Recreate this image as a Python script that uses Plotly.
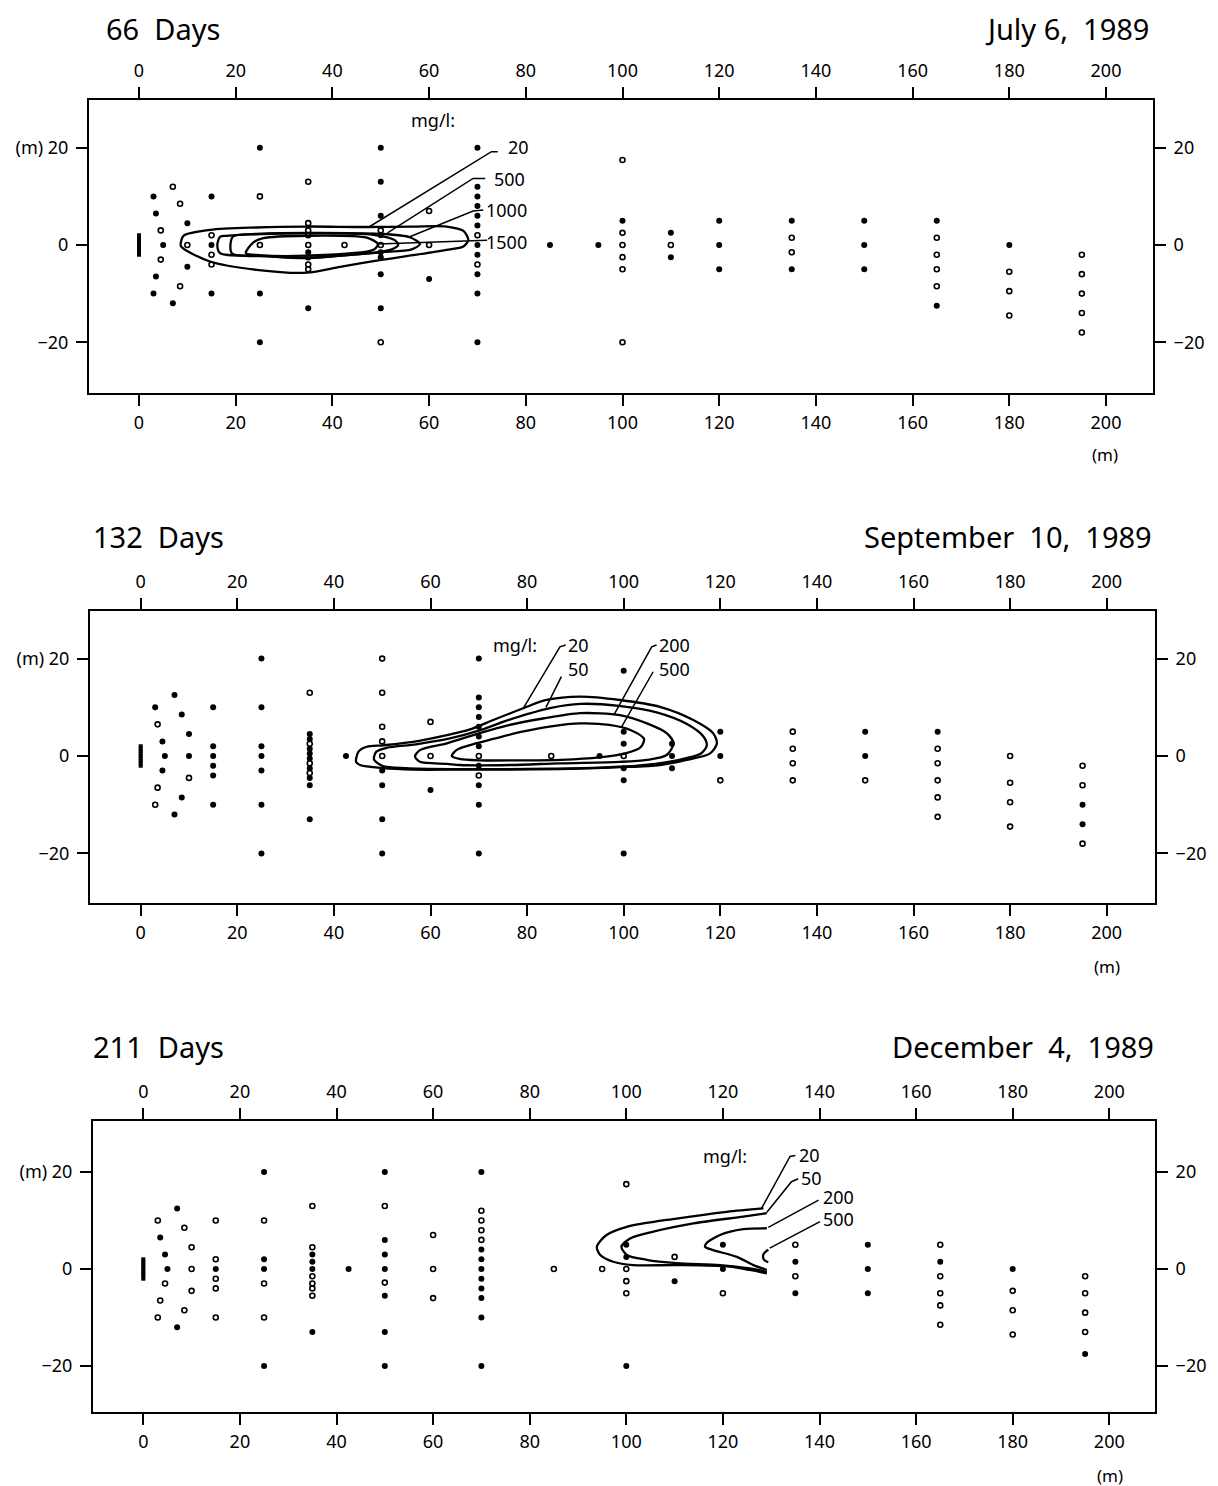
import plotly.graph_objects as go

# page body has an 8px margin: draw into the area that starts there
OFFSET = 8
W, H = 1218 - OFFSET, 1486 - OFFSET

# ---------------- data ----------------
TICKS_X = [0, 20, 40, 60, 80, 100, 120, 140, 160, 180, 200]
TICKS_Y = [-20, 0, 20]
TICKTEXT_Y_LEFT = ["\u221220", "0", "(m) 20"]
TICKTEXT_Y_RIGHT = ["\u221220", "0", "20"]

WELL_Y = [-2, -1.5, -1, -0.5, 0, 0.5, 1, 1.5, 2]

TITLES = ["66  Days", "132  Days", "211  Days"]
DATES = ["July 6,  1989", "September  10,  1989", "December  4,  1989"]

# Panel 1 : 66 days
P1_FILLED_X = [3, 3.5, 10, 5, 10, 3.5, 3, 7, 15, 15, 15, 25, 25, 25, 35, 35,
               50, 50, 50, 50, 50, 50, 50, 50, 60,
               70, 70, 70, 70, 70, 70, 70, 70, 70, 70, 70,
               85, 95, 100, 110, 110, 120, 120, 120, 135, 135, 150, 150, 150, 165, 165, 180]
P1_FILLED_Y = [10, 6.5, 4.5, 0, -4.5, -6.5, -10, -12, 10, 0, -10, 20, -10, -20, -1.5, -13,
               20, 13, 6, 2, -1.5, -2.5, -6, -13, -7,
               20, 12, 10, 8, 6, 4, 0, -2, -6, -10, -20,
               0, 0, 5, 2.5, -2.5, 5, 0, -5, 5, -5, 5, 0, -5, 5, -12.5, 0]
P1_OPEN_X = [7, 8.5, 4.5, 10, 4.5, 8.5, 15, 15, 15, 25, 25,
             35, 35, 35, 35, 35, 35, 35, 35, 42.5, 50, 50, 50, 60, 60, 70, 70,
             100, 100, 100, 100, 100, 100, 110, 135, 135,
             165, 165, 165, 165, 180, 180, 180, 195, 195, 195, 195, 195]
P1_OPEN_Y = [12, 8.5, 3, 0, -3, -8.5, 2, -2, -4, 10, 0,
             13, 4.5, 3, 2, 0, -2.5, -4, -5, 0, 3, 0, -20, 7, 0, 2, -4,
             17.5, 2.5, 0, -2.5, -5, -20, 0, 1.5, -1.5,
             1.5, -2, -5, -8.5, -5.5, -9.5, -14.5, -2, -6, -10, -14, -18]

P1_C20_X = [8.7, 9.2, 14.7, 24.3, 34.7, 47.1, 56.7, 63.6, 67.1, 68.1, 67.1, 63.6, 56.7, 49.8, 41.6, 34.7, 24.3, 14.7, 8.7, 8.7]
P1_C20_Y = [0.7, 1.9, 3.1, 3.6, 3.8, 3.7, 3.8, 3.8, 2.9, 1.0, -0.3, -1.0, -2.1, -3.1, -4.5, -5.7, -5.1, -3.4, -0.3, 0.7]
P1_C500_X = [16.2, 16.8, 18.1, 24.3, 34.7, 49.8, 56.0, 58.1, 56.4, 49.8, 34.7, 24.3, 16.8, 16.2]
P1_C500_Y = [0, 1.7, 1.9, 2.3, 2.5, 2.3, 1.6, 0.2, -0.9, -1.5, -2.6, -2.2, -1.7, 0]
P1_C1000_X = [19.4, 24.3, 34.7, 48.5, 52.9, 53.6, 52.3, 49.8, 34.7, 26.4, 19.2, 19.4]
P1_C1000_Y = [1.7, 2.2, 2.4, 2.1, 1.0, 0, -0.9, -1.4, -2.7, -2.3, -1.7, 1.7]
P1_C1500_X = [22.1, 23.6, 25.7, 34.7, 47.1, 49.4, 48.5, 34.7, 24.9, 22.1]
P1_C1500_Y = [-1.7, 0.5, 1.4, 1.9, 1.5, 0.2, -1.0, -2.2, -2.1, -1.7]

P1_LABELS = ["mg/l:", "20", "500", "1000", "1500"]
P1_LEADERS_X = [[47.4, 72.9, 74.2], [51.4, 69.1, 71.6], [56.0, 69.1, 71.2], [49.5, 72.0]]
P1_LEADERS_Y = [[3.6, 19.2, 19.2], [2.5, 13.7, 13.7], [1.7, 7.0, 7.2], [0.2, 1.0]]

# Panel 2 : 132 days
P2_FILLED_X = [3, 7, 8.5, 10, 4.5, 5, 10, 4.5, 8.5, 7,
               15, 15, 15, 15, 15, 15, 25, 25, 25, 25, 25, 25, 25,
               35, 35, 35, 35, 35, 35, 35, 35, 35, 42.5, 50, 50, 50, 50, 60,
               70, 70, 70, 70, 70, 70, 70, 70, 70, 70, 70, 95,
               100, 100, 100, 100, 100, 100, 110, 110, 110, 120, 120, 150, 150, 165, 195, 195]
P2_FILLED_Y = [10, 12.5, 8.5, 4.5, 3, 0, 0, -3, -8.5, -12,
               10, 2, 0, -2, -4, -10, 20, 10, 2, 0, -3, -10, -20,
               4.5, 3.5, 1.5, 0.5, -0.5, -2.5, -4.5, -6, -13, 0, -3, -6, -13, -20, -7,
               20, 12, 10, 8, 6, 4, 2, -2, -6, -10, -20, 0,
               17.5, 5, 2.5, -2.5, -5, -20, 2.5, 0, -2.5, 5, 0, 5, 0, 5, -10, -14]
P2_OPEN_X = [3.5, 10, 3.5, 3, 35, 35, 35, 35, 50, 50, 50, 50, 50, 60, 60, 70, 70, 85, 100, 120,
             135, 135, 135, 135, 150, 165, 165, 165, 165, 165, 180, 180, 180, 180, 195, 195, 195]
P2_OPEN_Y = [6.5, -4.5, -6.5, -10, 13, 2.5, -1.5, -3.5, 20, 13, 6, 3, 0, 7, 0, 0, -4, 0, 0, -5,
             5, 1.5, -1.5, -5, -5, 1.5, -1.5, -5, -8.5, -12.5, 0, -5.5, -9.5, -14.5, -2, -6, -18]

P2_C20_X = [44.6, 45.1, 46.8, 50.2, 56.4, 63.4, 68.0, 73.0, 79.2, 84.0, 91.0, 99.2, 107.5, 114.4, 118.5, 119.3, 117.9,
            113.0, 107.5, 99.2, 86.8, 76.5, 66.0, 56.4, 50.2, 45.4, 44.6]
P2_C20_Y = [-1.2, 0.9, 1.9, 2.2, 2.9, 4.3, 5.4, 7.4, 9.8, 11.5, 12.2, 11.5, 10.1, 7.4, 4.7, 2.6, 0.55,
            -0.8, -1.85, -2.3, -2.7, -2.8, -2.8, -2.8, -2.5, -1.85, -1.2]
P2_C50_X = [48.3, 48.8, 51.0, 57.0, 64.0, 70.0, 75.0, 80.0, 85.0, 91.0, 99.0, 107.0, 113.0, 116.5, 117.2, 116.0,
            111.0, 104.0, 95.0, 85.0, 75.0, 65.0, 55.0, 50.0, 48.3]
P2_C50_Y = [-0.7, 0.9, 1.7, 2.4, 3.6, 5.2, 7.0, 8.6, 9.9, 10.7, 10.3, 8.9, 6.6, 4.0, 2.2, 0.5,
            -0.9, -1.9, -2.4, -2.6, -2.7, -2.7, -2.5, -2.0, -0.7]
P2_C200_X = [56.8, 57.8, 63.4, 70.2, 76.0, 83.3, 91.0, 99.2, 104.8, 108.9, 110.3, 108.9, 104.8, 99.2, 86.8, 76.5,
             66.1, 63.4, 57.8, 56.8]
P2_C200_Y = [-0.1, 1.2, 2.6, 4.7, 6.3, 7.7, 8.8, 8.4, 6.7, 4.7, 2.6, 0.2, -0.8, -1.2, -1.5, -1.85,
             -1.85, -1.6, -1.2, -0.1]
P2_C500_X = [64.4, 65.5, 68.0, 73.0, 79.0, 85.0, 91.0, 97.0, 101.5, 104.2, 103.5, 100.5, 95.0, 87.0, 78.0, 70.0, 66.0, 64.4]
P2_C500_Y = [0, 1.3, 2.2, 3.5, 5.0, 6.1, 6.7, 6.4, 5.3, 3.5, 1.8, 0.6, -0.3, -0.8, -0.9, -0.9, -0.6, 0]

P2_LABELS = ["mg/l:", "20", "50", "200", "500"]
P2_LEADERS_X = [[79.2, 86.8, 88.0], [83.9, 87.1], [98.0, 105.8, 106.8], [99.5, 106.1]]
P2_LEADERS_Y = [[9.8, 22.4, 22.8], [10.0, 16.3], [8.5, 22.4, 22.8], [5.9, 17.3]]

# Panel 3 : 211 days
P3_FILLED_X = [7, 3.5, 4.5, 5, 7, 15, 25, 25, 25, 25, 35, 35, 35, 35, 42.5,
               50, 50, 50, 50, 50, 50, 50,
               70, 70, 70, 70, 70, 70, 70, 70, 70,
               100, 100, 100, 110, 120, 120, 135, 135, 150, 150, 150, 165, 180, 195]
P3_FILLED_Y = [12.5, 6.5, 3, 0, -12, 0, 20, 2, 0, -20, 3, 1.5, 0, -13, 0,
               20, 6, 3, 0, -5.5, -13, -20,
               20, 4, 2, 0, -2, -4, -6, -10, -20,
               5, 2.5, -20, -2.5, 5, 0, 1.5, -5, 5, 0, -5, 1.5, 0, -17.5]
P3_OPEN_X = [3, 8.5, 15, 10, 10, 4.5, 10, 3.5, 8.5, 3, 15, 15, 15, 15, 25, 25, 25,
             35, 35, 35, 35, 35, 35, 50, 50, 60, 60, 60, 70, 70, 70, 70,
             85, 95, 100, 100, 100, 100, 110, 120, 135, 135,
             165, 165, 165, 165, 165, 180, 180, 180, 195, 195, 195, 195]
P3_OPEN_Y = [10, 8.5, 10, 4.5, 0, -3, -4.5, -6.5, -8.5, -10, 2, -2, -4, -10, 10, -3, -10,
             13, 4.5, -1.5, -3, -4, -5.5, 13, -2.8, 7, 0, -6, 12, 10, 8, 6,
             0, 0, 17.5, 0, -2.5, -5, 2.5, -5, 5, -1.5,
             5, -1.5, -5, -7.5, -11.5, -4.5, -8.5, -13.5, -1.5, -5, -9, -13]

P3_C20_X = [128.4, 120.8, 110.4, 100.1, 95.9, 93.9, 94.6, 97.3, 101.4, 110.4, 121.4, 125.6, 129.1]
P3_C20_Y = [12.5, 11.8, 10.4, 8.7, 7.0, 4.6, 2.9, 1.5, 0.8, 0.8, 0.5, -0.2, -0.9]
P3_C50_X = [129.1, 124.2, 113.9, 105.6, 100.8, 99.0, 100.1, 104.2, 110.4, 119.4, 125.6, 129.1]
P3_C50_Y = [11.5, 10.8, 9.4, 7.7, 6.3, 4.6, 2.9, 1.9, 1.2, 0.8, 0.1, -0.6]
P3_C200_X = [129.1, 124.2, 119.4, 116.6, 116.3, 118.0, 122.9, 126.3, 129.1]
P3_C200_Y = [8.4, 8.2, 7.0, 5.3, 4.6, 3.9, 2.5, 0.8, -0.2]
P3_C500_X = [129.4, 128.5, 128.3, 128.6, 129.4]
P3_C500_Y = [4.0, 3.2, 2.5, 1.8, 1.4]

P3_LABELS = ["mg/l:", "20", "50", "200", "500"]
P3_LEADERS_X = [[128.0, 133.9, 135.0], [129.1, 134.2, 135.6], [129.4, 139.8], [129.7, 140.1]]
P3_LEADERS_Y = [[12.5, 23.2, 23.4], [11.7, 18.0, 18.6], [8.6, 14.2], [4.3, 9.75]]

# ---------------- layout constants (pixels / positions) ----------------
FONT = "Noto Sans"
# plot box in page pixels: left, right, top, bottom
BOXES = [(89, 1153, 100, 393), (90, 1155, 611, 903), (93, 1155, 1121, 1412)]
# data origin pixel and px per unit
ORIGINS = [(139, 245, 4.835, 4.86), (140.7, 756, 4.83, 4.87), (143.3, 1269, 4.83, 4.85)]
# title boxes: left-text x, right-text x, top of text box (page pixels)
TITLE_POS = [(105, 1150, 8), (92, 1153, 516), (92, 1155, 1026)]
M_POS = [(1105, 454), (1107, 966), (1110, 1475)]
# label anchor positions (data coords, left edge)
LABEL_POS = [
    [(56.0, 25.7), (76.1, 20.2), (73.2, 13.6), (71.6, 7.2), (71.6, 0.7)],
    [(72.7, 22.8), (88.3, 22.8), (88.3, 17.9), (107.1, 22.8), (107.1, 17.9)],
    [(115.6, 23.2), (135.5, 23.6), (136.0, 18.8), (140.5, 14.9), (140.5, 10.3)],
]

panels = [
    dict(fx=P1_FILLED_X, fy=P1_FILLED_Y, ox=P1_OPEN_X, oy=P1_OPEN_Y,
         contours=[(P1_C20_X, P1_C20_Y), (P1_C500_X, P1_C500_Y),
                   (P1_C1000_X, P1_C1000_Y), (P1_C1500_X, P1_C1500_Y)],
         labels=P1_LABELS, lx=P1_LEADERS_X, ly=P1_LEADERS_Y),
    dict(fx=P2_FILLED_X, fy=P2_FILLED_Y, ox=P2_OPEN_X, oy=P2_OPEN_Y,
         contours=[(P2_C20_X, P2_C20_Y), (P2_C50_X, P2_C50_Y),
                   (P2_C200_X, P2_C200_Y), (P2_C500_X, P2_C500_Y)],
         labels=P2_LABELS, lx=P2_LEADERS_X, ly=P2_LEADERS_Y),
    dict(fx=P3_FILLED_X, fy=P3_FILLED_Y, ox=P3_OPEN_X, oy=P3_OPEN_Y,
         contours=[(P3_C20_X, P3_C20_Y), (P3_C50_X, P3_C50_Y),
                   (P3_C200_X, P3_C200_Y), (P3_C500_X, P3_C500_Y)],
         labels=P3_LABELS, lx=P3_LEADERS_X, ly=P3_LEADERS_Y),
]


def nm(prefix, n):
    return prefix if n == 1 else f"{prefix}{n}"


def px(xp):
    return (xp - OFFSET) / W


def py(yp):
    return 1 - (yp - OFFSET) / H


fig = go.Figure()
layout = dict(width=W, height=H, autosize=False, margin=dict(l=0, r=0, t=0, b=0),
              paper_bgcolor="white", plot_bgcolor="white", showlegend=False,
              font=dict(family=FONT, color="black"))
annotations = []

for k, p in enumerate(panels):
    bx, tx = 2 * k + 1, 2 * k + 2
    left, right, top, bottom = BOXES[k]
    x0p, y0p, sx, sy = ORIGINS[k]
    xr = [(left - x0p) / sx, (right - x0p) / sx]
    yr = [(y0p - bottom) / sy, (y0p - top) / sy]
    xa, ya = nm("x", bx), nm("y", bx)
    xa2, ya2 = nm("x", tx), nm("y", tx)

    # contours
    for cx, cy in p["contours"]:
        fig.add_trace(go.Scatter(x=cx, y=cy, mode="lines", xaxis=xa, yaxis=ya,
                                 line=dict(color="black", width=2.3, shape="spline", smoothing=0.8),
                                 hoverinfo="skip"))
    # leader lines
    for lxs, lys in zip(p["lx"], p["ly"]):
        fig.add_trace(go.Scatter(x=lxs, y=lys, mode="lines", xaxis=xa, yaxis=ya,
                                 line=dict(color="black", width=1.5), hoverinfo="skip"))
    # well (injection line)
    fig.add_trace(go.Scatter(x=[0] * len(WELL_Y), y=WELL_Y, mode="markers", xaxis=xa, yaxis=ya,
                             marker=dict(symbol="square", size=4, color="black"), hoverinfo="skip"))
    # sampling points
    fig.add_trace(go.Scatter(x=p["fx"], y=p["fy"], mode="markers", xaxis=xa, yaxis=ya,
                             marker=dict(symbol="circle", size=6, color="black"), hoverinfo="skip"))
    fig.add_trace(go.Scatter(x=p["ox"], y=p["oy"], mode="markers", xaxis=xa, yaxis=ya,
                             marker=dict(symbol="circle-open", size=5, color="black",
                                         line=dict(width=1.6, color="black")), hoverinfo="skip"))
    # dummy for top/right axes
    fig.add_trace(go.Scatter(x=[None], y=[None], xaxis=xa2, yaxis=ya2, hoverinfo="skip"))

    dom_x = [px(left), px(right)]
    dom_y = [py(bottom), py(top)]
    common = dict(showgrid=False, zeroline=False, showline=True, linewidth=2, linecolor="black",
                  ticks="outside", ticklen=11, tickwidth=2, tickcolor="black",
                  tickfont=dict(family=FONT, size=18, color="black"), fixedrange=True)
    layout[nm("xaxis", bx)] = dict(domain=dom_x, range=xr, anchor=ya, side="bottom",
                                   tickvals=TICKS_X, ticklabelstandoff=1, **common)
    layout[nm("xaxis", tx)] = dict(range=xr, anchor=ya, side="top", overlaying=xa,
                                   tickvals=TICKS_X, ticklabelstandoff=3, **common)
    layout[nm("yaxis", bx)] = dict(domain=dom_y, range=yr, anchor=xa, side="left",
                                   tickvals=TICKS_Y, ticktext=TICKTEXT_Y_LEFT, ticklabelstandoff=4, **common)
    layout[nm("yaxis", tx)] = dict(range=yr, anchor=xa, side="right", overlaying=ya,
                                   tickvals=TICKS_Y, ticktext=TICKTEXT_Y_RIGHT, ticklabelstandoff=4, **common)

    # titles
    tlx, trx, ttop = TITLE_POS[k]
    annotations.append(dict(text=TITLES[k], xref="paper", yref="paper", x=px(tlx), y=py(ttop),
                            xanchor="left", yanchor="top", showarrow=False, borderpad=0,
                            font=dict(family=FONT, size=29, color="black")))
    annotations.append(dict(text=DATES[k], xref="paper", yref="paper", x=px(trx), y=py(ttop),
                            xanchor="right", yanchor="top", showarrow=False, borderpad=0,
                            font=dict(family=FONT, size=29, color="black")))
    mx, my = M_POS[k]
    annotations.append(dict(text="(m)", xref="paper", yref="paper", x=px(mx), y=py(my),
                            xanchor="center", yanchor="middle", showarrow=False,
                            font=dict(family=FONT, size=17, color="black")))
    # contour labels
    for txt, (ax_, ay_) in zip(p["labels"], LABEL_POS[k]):
        annotations.append(dict(text=txt, xref=xa, yref=ya, x=ax_, y=ay_, xanchor="left",
                                yanchor="middle", showarrow=False, borderpad=0,
                                font=dict(family=FONT, size=18, color="black")))

layout["annotations"] = annotations
fig.update_layout(**layout)
fig.write_html("out.html", config={"displayModeBar": False})
